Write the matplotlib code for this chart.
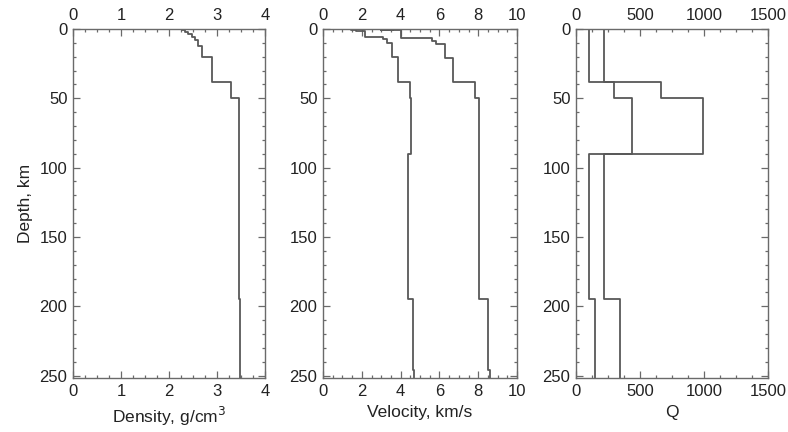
import numpy as np
import matplotlib
matplotlib.use('Agg')
from matplotlib import pyplot as plt
from matplotlib.ticker import MultipleLocator

plt.rcParams['font.family'] = ['Liberation Sans', 'DejaVu Sans']

# layered model: depth of each layer top (km) and the value inside the layer
max_depth = 252

dens_tops = [0, 1, 2.5, 4, 6, 8, 12, 20, 38.5, 50, 195]
density = [2.27, 2.33, 2.40, 2.47, 2.55, 2.61, 2.68, 2.89, 3.29, 3.45, 3.48]

vs_tops = [0, 0.5, 1.5, 5.5, 7.5, 10, 20, 38.5, 50, 90, 195, 246]
vs = [1.45, 1.7, 2.15, 3.1, 3.3, 3.55, 3.85, 4.48, 4.56, 4.36, 4.63, 4.7]

vp_tops = [0, 0.3, 0.6, 1.0, 6.5, 8.5, 11, 21, 38.5, 50, 195, 246]
vp = [2.6, 3.6, 3.0, 4.0, 5.6, 5.8, 6.3, 6.7, 7.85, 8.04, 8.52, 8.6]

q_tops = [0, 38.5, 50, 90, 195]
q_mu = [100, 300, 440, 100, 148]
q_kappa = [220, 660, 990, 220, 340]

line_col = '#585858'
axis_col = '#6a6a6a'
text_col = '#222222'


def steps(tops, vals):
    ys = np.repeat(list(tops) + [max_depth], 2)[1:-1]
    xs = np.repeat(vals, 2)
    return xs, ys


def style_axis(ax, xmax, xmajor, xlabel):
    ax.set_xlim(0, xmax)
    ax.set_ylim(max_depth, 0)
    ax.xaxis.set_major_locator(MultipleLocator(xmajor))
    ax.xaxis.set_minor_locator(MultipleLocator(xmajor / 4))
    ax.yaxis.set_major_locator(MultipleLocator(50))
    ax.yaxis.set_minor_locator(MultipleLocator(10))
    ax.tick_params(which='both', direction='in', top=True, right=True,
                   labeltop=True, color=axis_col, labelcolor=text_col,
                   labelsize=12, width=0.9, pad=4)
    ax.tick_params(which='major', length=5)
    ax.tick_params(which='minor', length=2.5)
    for s in ax.spines.values():
        s.set_color(axis_col)
        s.set_linewidth(1.0)
    ax.set_xlabel(xlabel, fontsize=12.5, color=text_col, labelpad=4)


fig = plt.figure(figsize=(7.88, 4.32), dpi=100)
bottom, height = 0.124, 0.809
ax1 = fig.add_axes([0.0926, bottom, 0.2437, height])
ax2 = fig.add_axes([0.4099, bottom, 0.2462, height])
ax3 = fig.add_axes([0.7310, bottom, 0.2437, height])

x, y = steps(dens_tops, density)
ax1.plot(x, y, color=line_col, lw=1.3)
style_axis(ax1, 4, 1, 'Density, g/cm$^3$')
ax1.set_ylabel('Depth, km', fontsize=12.5, color=text_col, labelpad=5)

for tops, vals in [(vs_tops, vs), (vp_tops, vp)]:
    x, y = steps(tops, vals)
    ax2.plot(x, y, color=line_col, lw=1.3)
style_axis(ax2, 10, 2, 'Velocity, km/s')

for vals in [q_mu, q_kappa]:
    x, y = steps(q_tops, vals)
    ax3.plot(x, y, color=line_col, lw=1.3)
style_axis(ax3, 1500, 500, 'Q')

fig.savefig('out.png', dpi=100)
